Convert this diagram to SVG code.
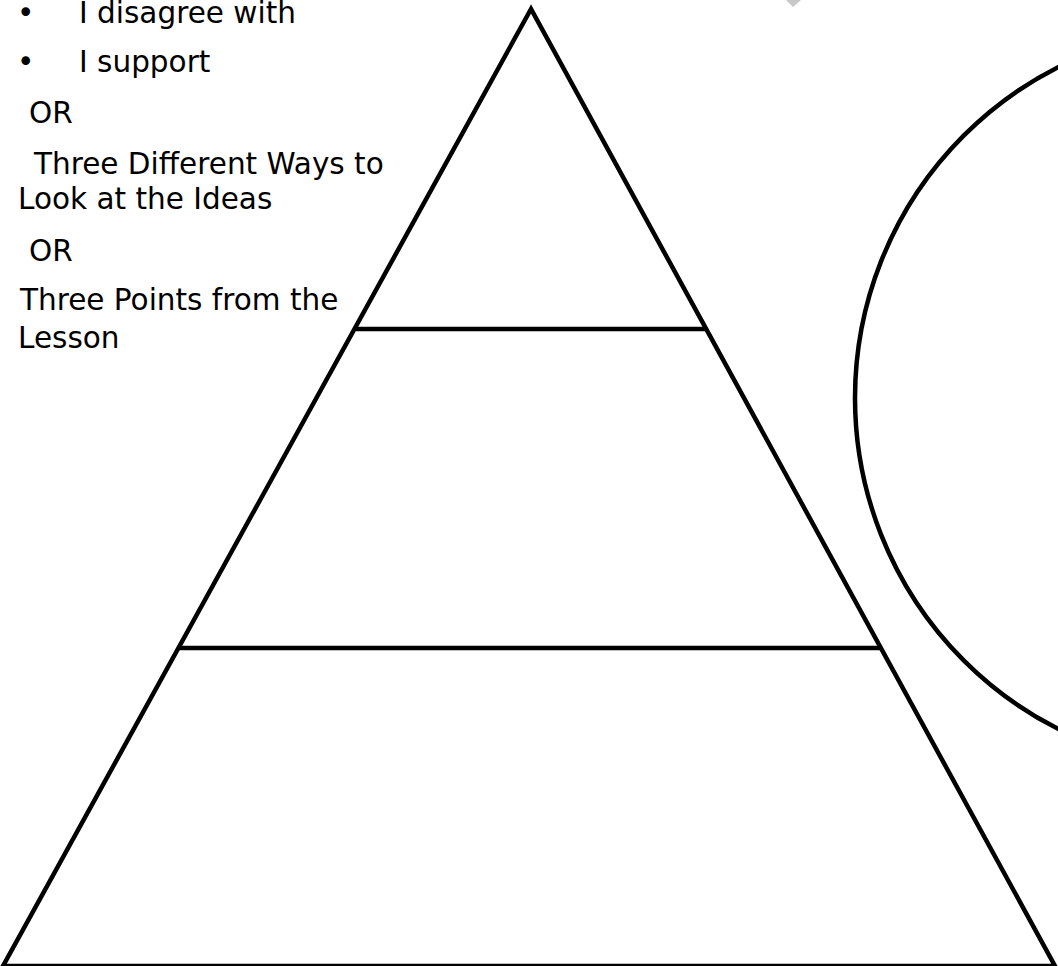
<svg xmlns="http://www.w3.org/2000/svg" width="1058" height="966" viewBox="0 0 1058 966">
<style>
.t{font-family:"DejaVu Sans","Verdana",sans-serif;font-size:29.5px;fill:#000}
.s{fill:none;stroke:#000;stroke-width:4.5}
</style>
<rect width="1058" height="966" fill="#fff"/>
<polygon points="786,0 801,0 793,7" fill="#c8c8c8"/>
<g id="pyramid">
<polygon class="s" points="531,9 3,966 1055,966" stroke-linejoin="miter"/>
</g>
<g id="tier-lines">
<line class="s" x1="356" y1="329" x2="707" y2="329"/>
<line class="s" x1="179" y1="648" x2="882" y2="648"/>
</g>
<g id="circle">
<circle class="s" cx="1226" cy="398" r="371"/>
</g>
<g id="labels">
<text class="t" x="17" y="23">•</text>
<text class="t" x="79" y="23">I disagree with</text>
<text class="t" x="17" y="72">•</text>
<text class="t" x="79" y="72">I support</text>
<text class="t" x="29" y="123">OR</text>
<text class="t" x="34" y="174">Three Different Ways to</text>
<text class="t" x="18" y="209">Look at the Ideas</text>
<text class="t" x="29" y="261">OR</text>
<text class="t" x="20" y="310">Three Points from the</text>
<text class="t" x="18" y="348">Lesson</text>
</g>
</svg>
